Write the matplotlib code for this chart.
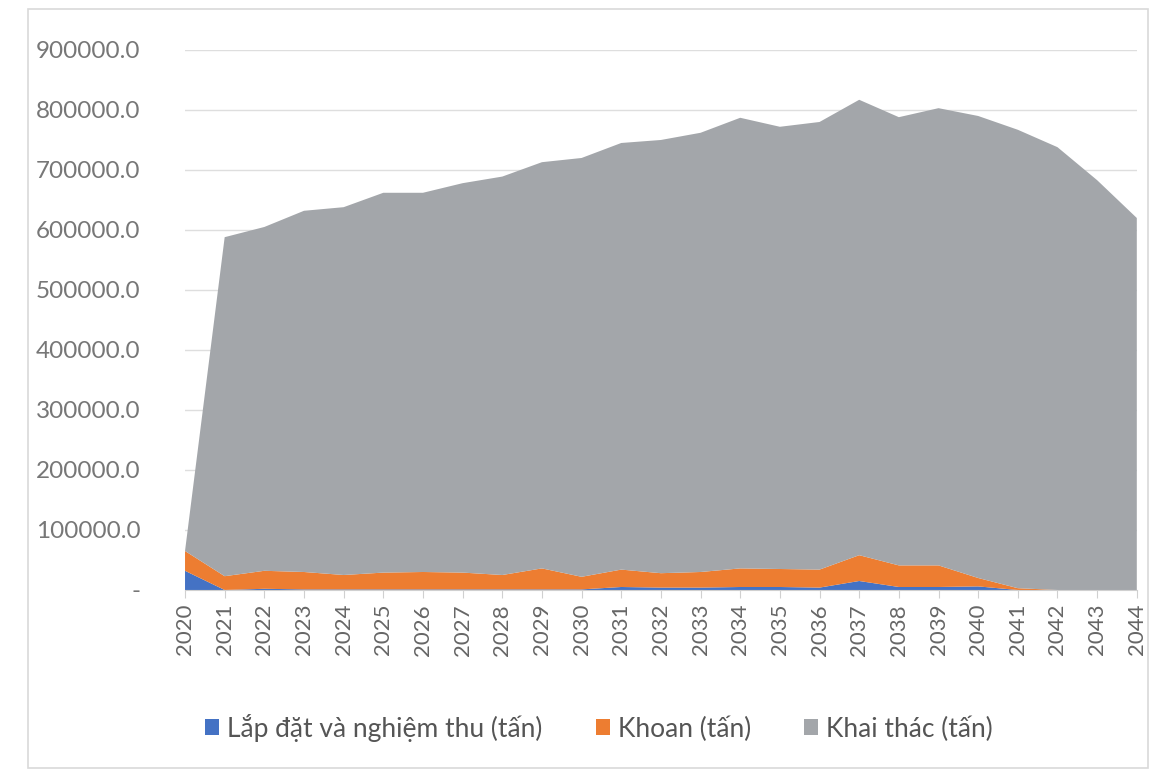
import matplotlib.pyplot as plt
from matplotlib.patches import Rectangle
from matplotlib.ticker import FuncFormatter

plt.rcParams['font.family'] = ['Lato', 'DejaVu Sans']

# years on the x axis
years = list(range(2020, 2045))

# installation and commissioning (blue)
lap_dat = [32000, 0, 2000, 1000, 1000, 1000, 1000, 1000, 1000, 1000, 1000, 5000, 4000,
           4000, 5000, 5000, 4000, 15000, 5000, 5000, 6000, 0, 0, 0, 0]
# drilling (orange)
khoan = [33000, 23000, 30000, 29000, 24000, 28000, 29000, 28000, 24000, 35000, 21000, 29000, 24000,
         26000, 31000, 30000, 30000, 43000, 36000, 36000, 14000, 3000, 0, 0, 0]
# totals read from the top edge, production = total - the two series below
tong = [65000, 588000, 605000, 632000, 638000, 662000, 662000, 678000, 689000, 713000, 720000, 745000, 750000,
        762000, 787000, 772000, 780000, 817000, 788000, 803000, 790000, 767000, 738000, 683000, 620000]
khai_thac = [t - a - b for t, a, b in zip(tong, lap_dat, khoan)]

labels = ['Lắp đặt và nghiệm thu (tấn)', 'Khoan (tấn)', 'Khai thác (tấn)']
colors = ['#4472C4', '#ED7D31', '#A3A6AA']

fig = plt.figure(figsize=(11.6, 7.76), dpi=100)
ax = fig.add_axes([0.1595, 0.2397, 0.8205, 0.6959])

# light frame around the whole chart
fig.patches.append(Rectangle((0.024, 0.01), 0.966, 0.978, transform=fig.transFigure,
                             fill=False, edgecolor='#d9d9d9', linewidth=1.2))

ax.stackplot(years, lap_dat, khoan, khai_thac, colors=colors, labels=labels, linewidth=0)

ax.set_xlim(2020, 2044)
ax.set_ylim(0, 900000)
ax.set_yticks(range(0, 900001, 100000))
ax.yaxis.set_major_formatter(FuncFormatter(lambda v, p: '-' if v == 0 else f'{v:.1f}'))
ax.set_xticks(years)
ax.set_xticklabels([str(y) for y in years], rotation=90)

ax.grid(axis='y', color='#dedede', linewidth=1)
ax.set_axisbelow(True)
for s in ['top', 'right', 'left']:
    ax.spines[s].set_visible(False)
ax.spines['bottom'].set_color('#d0d0d0')
ax.tick_params(axis='y', length=0, pad=32, labelsize=17.5, labelcolor='#777777')
ax.tick_params(axis='x', length=6, color='#d0d0d0', labelsize=16, labelcolor='#666666', pad=4)

ax.legend(loc='upper center', bbox_to_anchor=(0.435, -0.185), ncol=3, frameon=False,
          fontsize=19, labelcolor='#555555', handlelength=0.55, handleheight=0.55,
          columnspacing=2.0, handletextpad=0.3)

fig.savefig('out.png', dpi=100)
